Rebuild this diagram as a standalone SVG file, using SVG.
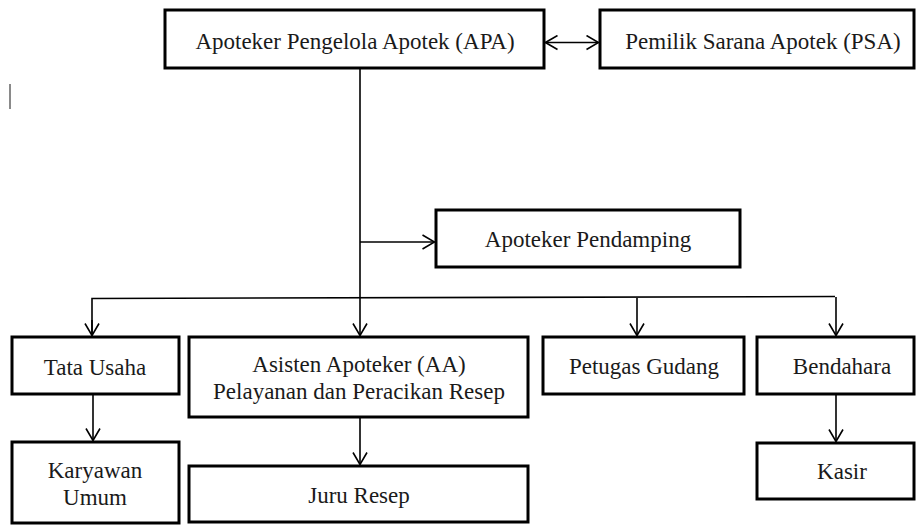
<svg xmlns="http://www.w3.org/2000/svg" width="917" height="525" viewBox="0 0 917 525" font-family="'Liberation Serif', 'Times New Roman', Tinos, 'DejaVu Serif', serif">
<style>
.box{fill:#fff;stroke:#000;stroke-width:3}
.lbl{font-family:'Liberation Serif','Times New Roman',Tinos,'DejaVu Serif',serif;font-size:23px;fill:#1a1a1a;text-anchor:middle}
.con{fill:none;stroke:#000;stroke-width:1.6}
</style>
<defs>
<marker id="arr" viewBox="0 0 14 16" refX="13" refY="8" markerWidth="14" markerHeight="16" markerUnits="userSpaceOnUse" orient="auto-start-reverse">
<path d="M1,1 L13,8 L1,15" fill="none" stroke="#000" stroke-width="1.6"/>
</marker>
</defs>
<rect x="9" y="84" width="2" height="25" fill="#8a8a8a"/>
<g id="connectors">
<line class="con" x1="545.5" y1="42.5" x2="598.5" y2="42.5" marker-start="url(#arr)" marker-end="url(#arr)"/>
<line class="con" x1="360" y1="69" x2="360" y2="335.5" marker-end="url(#arr)"/>
<line class="con" x1="360" y1="242" x2="434.5" y2="242" marker-end="url(#arr)"/>
<polyline class="con" points="92,335.5 92,298.5 835,296.5"/>
<line class="con" x1="637" y1="298" x2="637" y2="335.5" marker-end="url(#arr)"/>
<line class="con" x1="836" y1="297" x2="836" y2="335.5" marker-end="url(#arr)"/>
<line class="con" x1="92" y1="320" x2="92" y2="335.5" marker-end="url(#arr)"/>
<line class="con" x1="93" y1="395" x2="93" y2="440.5" marker-end="url(#arr)"/>
<line class="con" x1="360" y1="418" x2="360" y2="464.5" marker-end="url(#arr)"/>
<line class="con" x1="836" y1="395" x2="836" y2="441.5" marker-end="url(#arr)"/>
</g>
<g id="apa">
<rect class="box" x="165" y="10" width="379" height="58"/>
<text class="lbl" x="355" y="49">Apoteker Pengelola Apotek (APA)</text>
</g>
<g id="psa">
<rect class="box" x="600" y="10" width="314" height="58"/>
<text class="lbl" x="763" y="49">Pemilik Sarana Apotek (PSA)</text>
</g>
<g id="pendamping">
<rect class="box" x="436" y="210" width="304" height="57"/>
<text class="lbl" x="588" y="247">Apoteker Pendamping</text>
</g>
<g id="tata-usaha">
<rect class="box" x="12" y="337" width="167" height="57"/>
<text class="lbl" x="95" y="375">Tata Usaha</text>
</g>
<g id="asisten-apoteker">
<rect class="box" x="189" y="337" width="339" height="80"/>
<text class="lbl" x="359" y="372">Asisten Apoteker (AA)</text>
<text class="lbl" x="359" y="399">Pelayanan dan Peracikan Resep</text>
</g>
<g id="petugas-gudang">
<rect class="box" x="543" y="337" width="201" height="57"/>
<text class="lbl" x="644" y="374">Petugas Gudang</text>
</g>
<g id="bendahara">
<rect class="box" x="757" y="337" width="157" height="57"/>
<text class="lbl" x="842" y="374">Bendahara</text>
</g>
<g id="karyawan-umum">
<rect class="box" x="12" y="442" width="167" height="81"/>
<text class="lbl" x="95" y="478">Karyawan</text>
<text class="lbl" x="95" y="505">Umum</text>
</g>
<g id="juru-resep">
<rect class="box" x="189" y="466" width="339" height="56"/>
<text class="lbl" x="359" y="503">Juru Resep</text>
</g>
<g id="kasir">
<rect class="box" x="757" y="443" width="157" height="56"/>
<text class="lbl" x="842" y="479">Kasir</text>
</g>
</svg>
